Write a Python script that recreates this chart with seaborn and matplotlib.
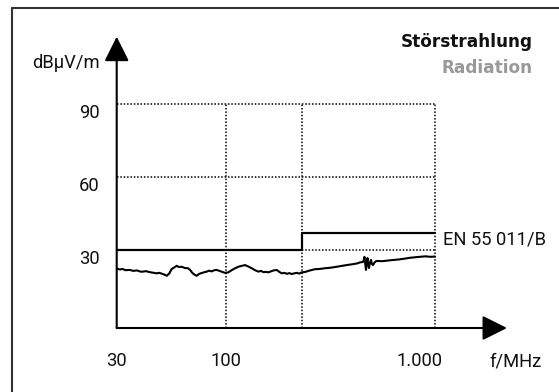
import matplotlib
matplotlib.use("Agg")
import matplotlib.pyplot as plt
from matplotlib.lines import Line2D
from matplotlib.ticker import NullLocator
from matplotlib.transforms import ScaledTranslation
import seaborn as sns

# measured interference (radiation) curve
freq_mhz = [30, 31, 32, 33, 34.7, 36, 37.5, 39, 40, 41.5, 43, 44.5, 46.6, 48, 49.5, 51, 52.1,
            53.5, 55, 56.5, 58.1, 59.5, 61.4, 63.5, 65.8, 67.5, 69, 70.5, 72.4, 74.5, 77, 79,
            80.9, 83, 85.5, 88, 90.3, 93, 96, 99, 102.6, 106, 110, 114.5, 118, 123.3, 128,
            132.8, 137, 142.8, 147, 151, 155, 159.4, 164, 169, 174.9, 180, 184.8, 190, 196,
            201, 206.4, 212, 218, 224, 230.4, 240, 250, 266.7, 280, 297.7, 315, 338.7, 360,
            385, 406.6, 425, 437.7, 447, 454, 460, 464, 467.7, 471, 475.5, 479, 483.4, 488,
            494, 499, 505, 515, 526, 560, 600, 632, 670, 710, 759, 800, 848, 900, 950, 1000]
level_dbuv = [22.4, 22.0, 22.2, 21.7, 21.8, 21.4, 21.6, 21.1, 21.1, 21.3, 20.9, 20.7, 20.4,
              20.6, 20.2, 19.8, 19.4, 20.3, 22.2, 22.8, 23.5, 23.0, 23.1, 22.6, 22.5, 21.7,
              20.6, 19.9, 19.4, 20.2, 20.6, 20.9, 21.1, 21.5, 21.2, 21.7, 21.8, 21.4, 21.0,
              20.6, 20.8, 21.6, 22.4, 23.1, 23.4, 23.8, 23.2, 22.5, 21.8, 21.1, 21.4, 20.9,
              21.0, 20.8, 21.2, 21.6, 21.8, 21.0, 20.4, 20.6, 20.2, 20.5, 20.1, 20.4, 20.6,
              20.3, 20.8, 21.0, 21.5, 22.1, 22.2, 22.5, 22.7, 23.1, 23.5, 23.9, 24.2, 24.5,
              24.9, 25.0, 25.2, 27.2, 24.0, 21.8, 24.5, 26.7, 24.0, 22.6, 24.6, 25.9, 24.3,
              23.8, 25.0, 25.5, 25.4, 25.7, 25.9, 26.1, 26.4, 26.8, 27.0, 27.2, 27.4, 27.2, 27.3]

# EN 55 011 class B limit
limit_freq = [30, 230, 1000]
limit_level = [30, 37, 37]

grid_x = [100, 230, 1000]
grid_y = [30, 60, 90]
xtick_vals = [30, 100, 1000]
xtick_labels = ["30", "100", "1.000"]
ytick_vals = [30, 60, 90]
ytick_labels = ["30", "60", "90"]

sns.set_style("white")
plt.rcParams["font.family"] = ["Roboto", "DejaVu Sans"]

W, H = 559, 392
fig = plt.figure(figsize=(W / 100, H / 100), dpi=100)
ax = fig.add_axes([116.7 / W, 1 - 328 / H, (507 - 116.7) / W, (328 - 36.7) / H])
ax.set_xscale("log")
ax.set_xlim(30, 2211)
ax.set_ylim(-2.1, 117.8)
for s in ax.spines.values():
    s.set_visible(False)

dots = (0, (1, 1.2))
ax.hlines(grid_y, 30, 1000, colors="black", linestyles=dots, lw=1.1)
ax.vlines(grid_x, -2.1, 90, colors="black", linestyles=dots, lw=1.1)

sns.lineplot(x=limit_freq, y=limit_level, ax=ax, color="black", lw=1.6,
             drawstyle="steps-post", estimator=None, sort=False)
sns.lineplot(x=freq_mhz, y=level_dbuv, ax=ax, color="black", lw=1.5,
             estimator=None, sort=False)

# axis arrows
arrow = dict(arrowstyle="-|>,head_length=0.4,head_width=0.2", mutation_scale=38,
             color="black", lw=1.5, shrinkA=0, shrinkB=0)
ax.annotate("", xy=(0, 1), xytext=(0, 0), xycoords="axes fraction", arrowprops=arrow)
ax.annotate("", xy=(1, 0), xytext=(0, 0), xycoords="axes fraction", arrowprops=arrow)

# ticks
ax.xaxis.set_minor_locator(NullLocator())
ax.set_xticks(xtick_vals, xtick_labels)
ax.set_yticks(ytick_vals, ytick_labels)
ax.tick_params(length=0, labelsize=13.2, colors="#111111")
ax.tick_params(axis="x", pad=24)
ax.tick_params(axis="y", pad=12.5)
for lab in ax.get_xticklabels():
    lab.set_va("center")
last = ax.get_xticklabels()[-1]
last.set_ha("right")
last.set_transform(last.get_transform() + ScaledTranslation(0.08, 0, fig.dpi_scale_trans))
for lab in ax.get_yticklabels():
    lab.set_va("center")
    lab.set_transform(lab.get_transform() + ScaledTranslation(0, -0.085, fig.dpi_scale_trans))

ax.text(1092, 34.5, "EN 55 011/B", fontsize=13.2, va="center", ha="left", color="#111111")

fig.text(100 / W, 1 - 63 / H, "dBµV/m", fontsize=13.2, ha="right", va="center", color="#111111")
fig.text(516 / W, 1 - 361.5 / H, "f/MHz", fontsize=13.2, ha="center", va="center", color="#111111")
fig.text(533 / W, 1 - 42 / H, "Störstrahlung", fontsize=12.2, fontweight="bold",
         family="DejaVu Sans", ha="right", va="center", color="#111111")
fig.text(533 / W, 1 - 68 / H, "Radiation", fontsize=12.2, fontweight="bold",
         family="DejaVu Sans", ha="right", va="center", color="#999999")

# outer frame (left and top edges)
fx, fy = 12 / W, 1 - 7.5 / H
fig.add_artist(Line2D([fx, fx], [0, fy], color="#333333", lw=1.5))
fig.add_artist(Line2D([fx, 1], [fy, fy], color="#333333", lw=1.5))

fig.savefig("out.png", dpi=100)
